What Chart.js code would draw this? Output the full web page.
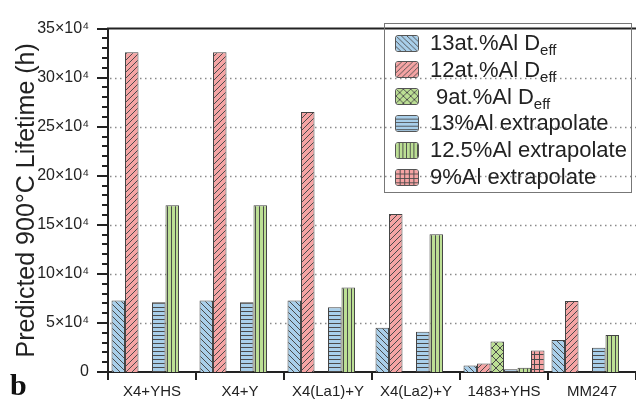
<!DOCTYPE html>
<html>
<head>
<meta charset="utf-8">
<script src="https://cdn.jsdelivr.net/npm/chart.js@4/dist/chart.umd.min.js"></script>
<style>
  html, body { margin: 0; padding: 0; background: #fff; overflow: hidden; }
  #wrap { position: relative; width: 636px; height: 404px; font-family: "Liberation Sans", Arial, sans-serif; color: #222; }
  #leyenda { position: absolute; left: 384px; top: 23px; width: 248px; height: 170px; border: 1px solid #777; box-sizing: border-box; }
  .fila { position: absolute; left: 10px; height: 20px; display: flex; align-items: center; font-size: 22px; white-space: nowrap; }
  .fila canvas { width: 24px; height: 17px; border: 1px solid #555; border-radius: 3px; box-sizing: border-box; margin-right: 11px; }
  .fila sub { font-size: 15px; vertical-align: -5px; line-height: 0; }
  #letra { position: absolute; left: 10px; top: 370px; font: bold 30px "Liberation Serif", serif; line-height: 30px; color: #111; }
</style>
</head>
<body>
<div id="wrap">
  <canvas id="grafico" width="636" height="404"></canvas>
  <div id="leyenda"></div>
  <div id="letra">b</div>
</div>
<script>
// Datos (unidades de 10^4 horas)
const categorias = ['X4+YHS', 'X4+Y', 'X4(La1)+Y', 'X4(La2)+Y', '1483+YHS', 'MM247'];
const al13Deff = [7.3, 7.3, 7.3, 4.5, 0.65, 3.25];
const al12Deff = [32.6, 32.6, 26.5, 16.1, 0.86, 7.23];
const al9Deff = [null, null, null, null, 3.1, null];
const al13Extrap = [7.1, 7.1, 6.6, 4.1, 0.27, 2.46];
const al125Extrap = [17.0, 17.0, 8.6, 14.05, 0.43, 3.78];
const al9Extrap = [null, null, null, null, 2.2, null];
const etiquetasY = [0, 5, 10, 15, 20, 25, 30, 35];

const azul = '#a9cfea';
const rojo = '#f5a4a4';
const verde = '#bcdf94';
const linea = '#4a4a4a';

// Crear patrones de relleno (rayado)
function patron(fondo, tipo) {
  const c = document.createElement('canvas');
  const s = tipo === 'cruz' ? 8 : (tipo === 'h' || tipo === 'v') ? 4 : tipo === 'rejilla' ? 5 : 6;
  c.width = s; c.height = s;
  const g = c.getContext('2d');
  g.fillStyle = fondo;
  g.fillRect(0, 0, s, s);
  g.strokeStyle = linea;
  g.lineWidth = 1;
  g.beginPath();
  if (tipo === 'izq' || tipo === 'cruz') {
    g.moveTo(-1, -1); g.lineTo(s + 1, s + 1);
  }
  if (tipo === 'der' || tipo === 'cruz') {
    g.moveTo(-1, s + 1); g.lineTo(s + 1, -1);
  }
  if (tipo === 'h' || tipo === 'rejilla') {
    g.moveTo(0, s - 0.5); g.lineTo(s, s - 0.5);
  }
  if (tipo === 'v' || tipo === 'rejilla') {
    g.moveTo(s - 0.5, 0); g.lineTo(s - 0.5, s);
  }
  g.stroke();
  return c;
}

const series = [
  { nombre: '13at.%Al D', sub: 'eff', datos: al13Deff, tile: patron(azul, 'izq'), sangria: 0 },
  { nombre: '12at.%Al D', sub: 'eff', datos: al12Deff, tile: patron(rojo, 'der'), sangria: 0 },
  { nombre: '9at.%Al D', sub: 'eff', datos: al9Deff, tile: patron(verde, 'cruz'), sangria: 6 },
  { nombre: '13%Al extrapolate', sub: '', datos: al13Extrap, tile: patron(azul, 'h'), sangria: 0 },
  { nombre: '12.5%Al extrapolate', sub: '', datos: al125Extrap, tile: patron(verde, 'v'), sangria: 0 },
  { nombre: '9%Al extrapolate', sub: '', datos: al9Extrap, tile: patron(rojo, 'rejilla'), sangria: 0 }
];

const ctx = document.getElementById('grafico').getContext('2d');

// Leyenda en HTML
const leyenda = document.getElementById('leyenda');
series.forEach((s, i) => {
  const fila = document.createElement('div');
  fila.className = 'fila';
  fila.style.top = (9 + i * 26.8) + 'px';
  const mini = document.createElement('canvas');
  mini.width = 24; mini.height = 17;
  const mc = mini.getContext('2d');
  mc.fillStyle = mc.createPattern(s.tile, 'repeat');
  mc.fillRect(0, 0, 24, 17);
  fila.appendChild(mini);
  const txt = document.createElement('span');
  txt.style.paddingLeft = s.sangria + 'px';
  txt.innerHTML = s.nombre + (s.sub ? '<sub>' + s.sub + '</sub>' : '');
  fila.appendChild(txt);
  leyenda.appendChild(fila);
});

// Líneas punteadas de la cuadrícula
const cuadricula = {
  id: 'cuadricula',
  beforeDatasetsDraw(chart) {
    const y = chart.scales.y;
    const area = chart.chartArea;
    const c = chart.ctx;
    c.save();
    c.strokeStyle = '#8a8a8a';
    c.lineWidth = 1.3;
    c.setLineDash([1.5, 3.5]);
    etiquetasY.filter(v => v > 0 && v < 35).forEach(v => {
      const py = Math.round(y.getPixelForValue(v)) + 0.5;
      c.beginPath();
      c.moveTo(area.left + 2, py);
      c.lineTo(636, py);
      c.stroke();
    });
    c.restore();
  }
};

// Marcas del eje Y (mayores y menores) y borde superior
const marcas = {
  id: 'marcas',
  afterDraw(chart) {
    const y = chart.scales.y;
    const area = chart.chartArea;
    const c = chart.ctx;
    c.save();
    c.strokeStyle = '#222';
    c.lineWidth = 2;
    for (let v = 0; v <= 35; v++) {
      const py = Math.round(y.getPixelForValue(v));
      const largo = v % 5 === 0 ? 11 : 6;
      c.beginPath();
      c.moveTo(area.left, py);
      c.lineTo(area.left - largo, py);
      c.stroke();
    }
    c.beginPath();
    c.moveTo(area.left - 1, area.top);
    c.lineTo(636, area.top);
    c.stroke();
    c.restore();
  }
};

new Chart(ctx, {
  type: 'bar',
  data: {
    labels: categorias,
    datasets: series.map(s => ({
      label: s.nombre + s.sub,
      data: s.datos,
      backgroundColor: ctx.createPattern(s.tile, 'repeat'),
      borderColor: '#444',
      borderWidth: 1,
      categoryPercentage: 0.92,
      barPercentage: 1
    }))
  },
  options: {
    responsive: false,
    animation: false,
    layout: { padding: { top: 20, right: 0, left: 0, bottom: 0 } },
    plugins: { legend: { display: false }, tooltip: { enabled: false } },
    scales: {
      x: {
        offset: true,
        grid: { display: true, drawOnChartArea: false, drawTicks: true, tickLength: 8, offset: true, color: '#222', lineWidth: 2 },
        border: { display: true, color: '#222', width: 2 },
        ticks: { color: '#222', font: { family: 'Liberation Sans', size: 15 }, padding: 3, maxRotation: 0, autoSkip: false },
        afterFit: s => { s.height = 32; }
      },
      y: {
        min: 0,
        max: 35,
        afterBuildTicks: s => { s.ticks = etiquetasY.map(v => ({ value: v })); },
        grid: { display: false, drawTicks: false },
        border: { display: true, color: '#222', width: 2 },
        ticks: {
          color: '#222',
          font: { family: 'Liberation Sans', size: 16 },
          padding: 19,
          callback: v => v === 0 ? '0' : v + '×10⁴'
        },
        title: {
          display: true,
          text: 'Predicted 900°C Lifetime (h)',
          color: '#222',
          font: { family: 'Liberation Sans', size: 25 },
          padding: { top: 12, bottom: 0 }
        },
        afterFit: s => { s.width = 108; }
      }
    }
  },
  plugins: [cuadricula, marcas]
});
</script>
</body>
</html>
